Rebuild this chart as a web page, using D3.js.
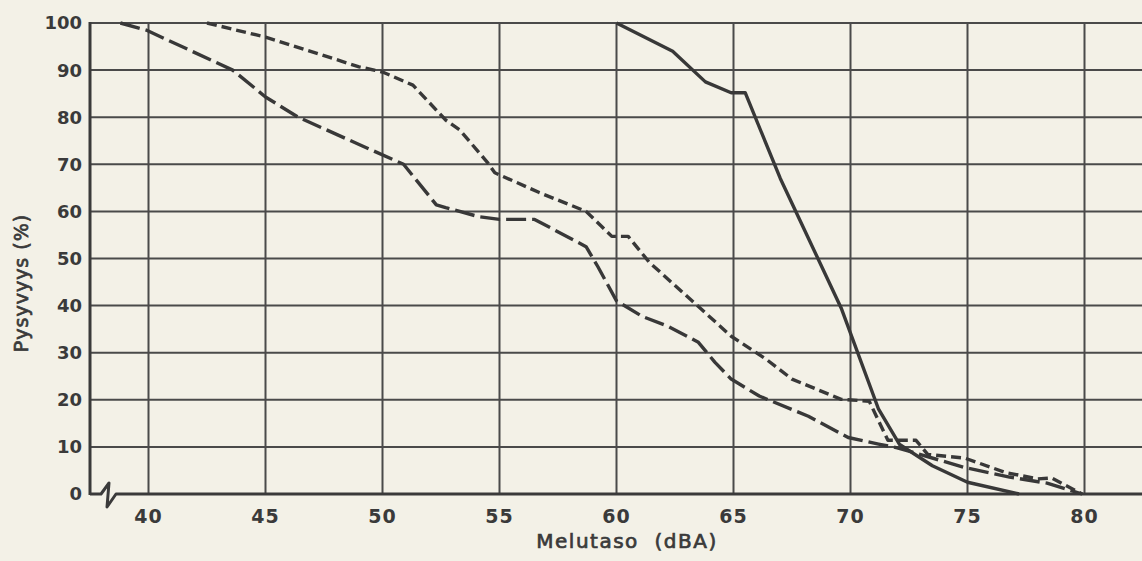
<!DOCTYPE html>
<html>
<head>
<meta charset="utf-8">
<script src="https://cdn.jsdelivr.net/npm/d3@7"></script>
<style>
  body { margin: 0; background-color: #f3f1e7; }
  svg { display: block; }
</style>
</head>
<body>
<div id="visualization"></div>
<script>
let w = 1142;
let h = 561;

// values: [dBA, %]
let solidLine = [[60,100],[62.4,94],[63.8,87.5],[64.9,85.2],[65.5,85.2],[67.0,67],[69.6,39.5],[71.2,18],[72.1,10.5],[73.5,6],[75,2.5],[77.2,0]];
let longDashLine = [[38.8,100],[39.9,98.5],[43.6,90],[45.0,84.3],[46.4,80],[49.0,74.2],[50.9,70],[52.3,61.4],[52.7,60.8],[54.1,58.9],[55.0,58.3],[56.5,58.3],[58.7,52.5],[59.2,48.3],[60.0,41],[60.4,39.8],[61.1,37.7],[62.2,35.6],[63.5,32.2],[64.2,28],[64.9,24.4],[66.1,20.8],[68.2,16.5],[69.9,12],[71.2,10.6],[72.0,9.8],[74.9,5.6],[76.8,3.6],[78.4,2.3],[79.9,0]];
let shortDashLine = [[42.5,100],[45.0,97],[49.0,90.7],[50.0,89.6],[51.3,86.8],[52.7,79.4],[53.3,77.3],[54.5,70.3],[54.8,68.2],[56.7,64],[58.7,60],[59.8,54.7],[60.5,54.7],[61.4,49.2],[63.5,39.8],[64.9,33.5],[66.4,28.6],[67.5,24.4],[69.6,20.1],[70.8,19.7],[71.6,11.4],[72.8,11.4],[73.3,8.4],[74.9,7.6],[76.6,4.6],[78.0,3.2],[78.6,3.4],[79.9,0]];

let xTicks = [40, 45, 50, 55, 60, 65, 70, 75, 80];
let yTicks = [0, 10, 20, 30, 40, 50, 60, 70, 80, 90, 100];

let ink = "#3a3a3a";

let viz = d3.select("#visualization")
  .append("svg")
  .attr("width", w)
  .attr("height", h)
  .style("background-color", "#f3f1e7")
;

let xScale = d3.scaleLinear().domain([37.5, 82.5]).range([90, 1143]);
let yScale = d3.scaleLinear().domain([0, 100]).range([494, 23]);

// grid
viz.selectAll(".hgrid").data(yTicks.filter(d => d > 0)).enter()
  .append("line")
    .attr("class", "hgrid")
    .attr("x1", xScale(37.5))
    .attr("x2", w)
    .attr("y1", d => yScale(d))
    .attr("y2", d => yScale(d))
    .attr("stroke", "#4a4a4a")
    .attr("stroke-width", 2)
;

viz.selectAll(".vgrid").data(xTicks).enter()
  .append("line")
    .attr("class", "vgrid")
    .attr("x1", d => xScale(d))
    .attr("x2", d => xScale(d))
    .attr("y1", yScale(100))
    .attr("y2", yScale(0))
    .attr("stroke", "#4a4a4a")
    .attr("stroke-width", 2)
;

// y axis line
viz.append("line")
    .attr("x1", xScale(37.5))
    .attr("x2", xScale(37.5))
    .attr("y1", yScale(100) - 1)
    .attr("y2", yScale(0) + 1)
    .attr("stroke", ink)
    .attr("stroke-width", 3)
;

// x axis with the little break mark near the origin
let x0 = xScale(37.5);
let y0 = yScale(0);
let breakPath = d3.path();
breakPath.moveTo(x0, y0);
breakPath.lineTo(x0 + 11, y0);
breakPath.lineTo(x0 + 19, y0 - 11);
breakPath.lineTo(x0 + 17, y0 + 13);
breakPath.lineTo(x0 + 26, y0);
breakPath.lineTo(w, y0);

viz.append("path")
    .attr("d", breakPath.toString())
    .attr("fill", "none")
    .attr("stroke", ink)
    .attr("stroke-width", 3)
    .attr("stroke-linejoin", "round")
;

// tick labels
viz.selectAll(".ylabel").data(yTicks).enter()
  .append("text")
    .attr("class", "ylabel")
    .attr("x", 82)
    .attr("y", d => yScale(d))
    .attr("dy", "0.36em")
    .attr("text-anchor", "end")
    .attr("font-family", "DejaVu Sans")
    .attr("font-weight", "bold")
    .attr("font-size", 18)
    .attr("fill", ink)
    .text(d => d)
;

viz.selectAll(".xlabel").data(xTicks).enter()
  .append("text")
    .attr("class", "xlabel")
    .attr("x", d => xScale(d))
    .attr("y", 523)
    .attr("text-anchor", "middle")
    .attr("font-family", "DejaVu Sans")
    .attr("font-weight", "bold")
    .attr("font-size", 19)
    .attr("letter-spacing", 1)
    .attr("fill", ink)
    .text(d => d)
;

// axis titles
viz.append("text")
    .attr("x", 627)
    .attr("y", 548)
    .attr("text-anchor", "middle")
    .attr("font-family", "DejaVu Sans")
    .attr("font-size", 20)
    .attr("letter-spacing", 1.5)
    .attr("fill", ink)
    .attr("stroke", ink)
    .attr("stroke-width", 0.7)
    .style("white-space", "pre")
    .text("Melutaso  (dBA)")
;

viz.append("text")
    .attr("transform", "translate(28,283) rotate(-90)")
    .attr("text-anchor", "middle")
    .attr("font-family", "DejaVu Sans")
    .attr("font-size", 19)
    .attr("letter-spacing", 1)
    .attr("fill", ink)
    .attr("stroke", ink)
    .attr("stroke-width", 0.7)
    .text("Pysyvyys (%)")
;

// the three curves
let line = d3.line()
  .x(d => xScale(d[0]))
  .y(d => yScale(d[1]))
;

let series = [
  {data: solidLine, dash: null},
  {data: longDashLine, dash: "20,6"},
  {data: shortDashLine, dash: "10,5"}
];

viz.selectAll(".curve").data(series).enter()
  .append("path")
    .attr("class", "curve")
    .attr("d", d => line(d.data))
    .attr("fill", "none")
    .attr("stroke", "#383838")
    .attr("stroke-width", 3.4)
    .attr("stroke-linejoin", "round")
    .attr("stroke-dasharray", d => d.dash)
;
</script>
</body>
</html>
